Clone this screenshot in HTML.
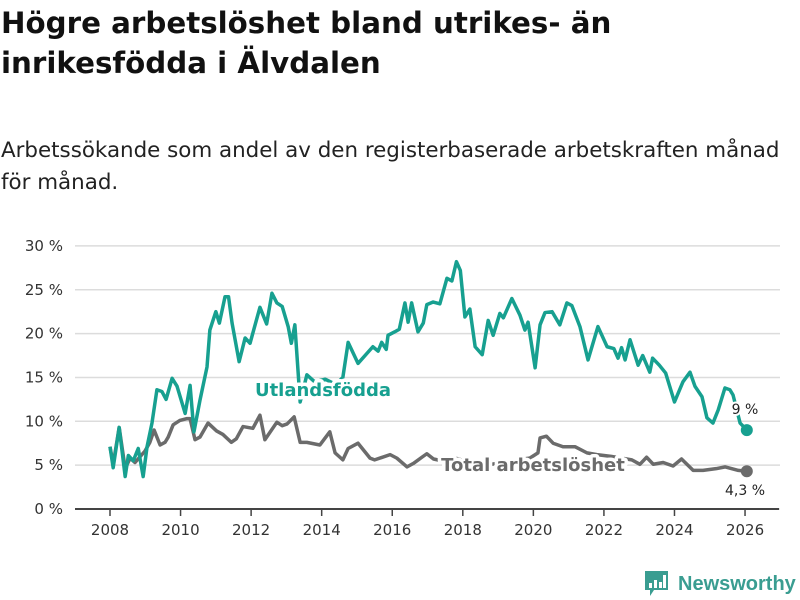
<!DOCTYPE html>
<html><head><meta charset="utf-8">
<style>
body{margin:0;width:800px;height:600px;background:#fff;font-family:"Liberation Sans",sans-serif;overflow:hidden}
#title{position:absolute;left:1px;top:3px;font-family:"DejaVu Sans",sans-serif;font-size:29.3px;font-weight:bold;line-height:40px;color:#111;margin:0;white-space:nowrap}
#sub{position:absolute;left:1px;top:135px;font-family:"DejaVu Sans",sans-serif;font-size:21.4px;line-height:32px;color:#222;margin:0;white-space:nowrap}
svg{position:absolute;left:0;top:0}
</style></head><body>
<h1 id="title">Högre arbetslöshet bland utrikes- än<br>inrikesfödda i Älvdalen</h1>
<p id="sub">Arbetssökande som andel av den registerbaserade arbetskraften månad<br>för månad.</p>
<svg id="chart" width="800" height="600"></svg>
<script>
const utlDates=[2008.0,2008.09,2008.26,2008.43,2008.52,2008.66,2008.8,2008.94,2009.05,2009.19,2009.33,2009.47,2009.59,2009.76,2009.9,2010.13,2010.27,2010.38,2010.55,2010.75,2010.83,2011.0,2011.1,2011.26,2011.36,2011.46,2011.66,2011.83,2011.97,2012.25,2012.44,2012.59,2012.73,2012.88,2013.05,2013.14,2013.24,2013.39,2013.58,2013.8,2014.1,2014.4,2014.6,2014.75,2015.03,2015.45,2015.6,2015.7,2015.83,2015.88,2016.07,2016.2,2016.36,2016.45,2016.55,2016.73,2016.88,2016.98,2017.16,2017.35,2017.55,2017.69,2017.82,2017.93,2018.06,2018.2,2018.35,2018.55,2018.72,2018.86,2019.05,2019.15,2019.39,2019.62,2019.76,2019.85,2020.05,2020.19,2020.33,2020.53,2020.75,2020.95,2021.09,2021.32,2021.55,2021.83,2022.09,2022.28,2022.4,2022.5,2022.6,2022.74,2022.97,2023.1,2023.3,2023.38,2023.57,2023.75,2024.0,2024.24,2024.44,2024.58,2024.78,2024.92,2025.09,2025.24,2025.43,2025.57,2025.66,2025.86,2026.05];
const utlValues=[7.1,4.7,9.3,3.7,6.1,5.5,6.9,3.7,7.1,9.8,13.6,13.4,12.5,14.9,14,10.9,14.1,8.8,12.4,16.2,20.4,22.5,21.2,24.2,24.2,21.2,16.8,19.5,18.9,23,21.1,24.6,23.5,23.1,20.8,18.9,21,12.2,15.3,14.5,14.8,14.2,15,19,16.6,18.5,18,19,18.2,19.8,20.2,20.5,23.5,21.3,23.5,20.2,21.2,23.3,23.6,23.4,26.3,26,28.2,27.2,21.9,22.8,18.5,17.6,21.5,19.8,22.3,21.8,24,22.1,20.4,21.3,16.1,21,22.4,22.5,21,23.5,23.2,20.8,17,20.8,18.5,18.3,17.2,18.4,17,19.3,16.4,17.5,15.6,17.2,16.4,15.5,12.2,14.5,15.6,14,12.8,10.4,9.8,11.3,13.8,13.6,13,9.8,9.0];
const totDates=[2008.0,2008.09,2008.26,2008.43,2008.57,2008.71,2008.99,2009.13,2009.25,2009.42,2009.56,2009.65,2009.79,2009.98,2010.17,2010.27,2010.41,2010.55,2010.78,2011.02,2011.2,2011.44,2011.58,2011.77,2012.05,2012.25,2012.39,2012.73,2012.88,2013.02,2013.22,2013.39,2013.58,2013.95,2014.23,2014.38,2014.6,2014.75,2015.03,2015.17,2015.37,2015.5,2015.94,2016.13,2016.42,2016.6,2016.84,2016.98,2017.17,2017.4,2017.8,2018.2,2018.6,2019.0,2019.5,2019.9,2020.13,2020.19,2020.37,2020.56,2020.84,2021.18,2021.52,2021.8,2022.2,2022.5,2022.79,2023.02,2023.21,2023.4,2023.68,2023.96,2024.2,2024.53,2024.81,2025.18,2025.44,2025.81,2026.05];
const totValues=[7.1,5.1,9.3,4.6,5.8,5.3,6.6,7.6,9,7.3,7.6,8.2,9.6,10.1,10.3,10.3,7.9,8.2,9.8,8.9,8.5,7.6,8,9.4,9.2,10.7,7.9,9.9,9.5,9.7,10.5,7.6,7.6,7.3,8.8,6.4,5.6,6.9,7.5,6.8,5.8,5.6,6.2,5.8,4.8,5.2,5.9,6.3,5.7,5.5,5.8,5.3,5.0,5.2,5.6,5.8,6.4,8.1,8.3,7.5,7.1,7.1,6.4,6.2,6.0,5.8,5.6,5.1,5.9,5.1,5.3,4.9,5.7,4.4,4.4,4.6,4.8,4.4,4.3];
const yTicks=[0,5,10,15,20,25,30];
const yTickLabels=["0 %","5 %","10 %","15 %","20 %","25 %","30 %"];
const xTicks=[2008,2010,2012,2014,2016,2018,2020,2022,2024,2026];

const NS="http://www.w3.org/2000/svg";
const svg=document.getElementById('chart');
const X=v=>110+(v-2008)*35.28;
const Y=v=>509-v*8.77;
function el(t,a,p){const e=document.createElementNS(NS,t);for(const k in a)e.setAttribute(k,a[k]);(p||svg).appendChild(e);return e;}
yTicks.forEach((t,i)=>{
  const g=el('line',{x1:75,x2:780,y1:Y(t),y2:Y(t),stroke:'#dcdcdc','stroke-width':1.5});
  
  
  const l=el('text',{x:63,y:Y(t)+5,'text-anchor':'end','font-size':15,fill:'#333','font-family':'DejaVu Sans, sans-serif'});
  l.textContent=yTickLabels[i];
  
  
});
const ax=el('line',{x1:75,x2:779,y1:509,y2:509,stroke:'#444','stroke-width':2});


xTicks.forEach(t=>{
  const tk=el('line',{x1:X(t),x2:X(t),y1:509,y2:516,stroke:'#444','stroke-width':1.5});
  
  
  const l=el('text',{x:X(t),y:535,'text-anchor':'middle','font-size':15,fill:'#333','font-family':'DejaVu Sans, sans-serif'});
  l.textContent=t;
  
  
});
function line(d,v,c,name){
  const p=el('polyline',{points:d.map((x,i)=>X(x)+','+Y(v[i])).join(' '),fill:'none',stroke:c,'stroke-width':3.5,'stroke-linejoin':'round'});
  
  
  const n=d.length-1;
  const c2=el('circle',{cx:X(d[n]),cy:Y(v[n]),r:6,fill:c});
  
  
}
line(totDates,totValues,'#6b6b6b','total-line');
line(utlDates,utlValues,'#17a090','utlandsfodda-line');
function label(x,y,txt,c,fs,bold,anchor,name){
  const t=el('text',{x:x,y:y,'text-anchor':anchor,'font-size':fs,'font-weight':bold?'bold':'normal',fill:c,stroke:'#fff','stroke-width':bold?7:4,'paint-order':'stroke','stroke-linejoin':'round','font-family':'DejaVu Sans, sans-serif'});
  t.textContent=txt;
  
  
}
label(323,396,'Utlandsfödda','#17a090',18,true,'middle','utlandsfodda-label');
label(533,471,'Total arbetslöshet','#6b6b6b',18,true,'middle','total-label');
label(745,414,'9 %','#222',14,false,'middle','utlandsfodda-value');
label(745,495,'4,3 %','#222',14,false,'middle','total-value');
// logo
const lg=el('g',{});


el('path',{d:'M645 571 h23 v19 h-14 l-4 6 v-6 h-5 z',fill:'#3a9d91'},lg);
el('rect',{x:649,y:583,width:3,height:5,fill:'#fff'},lg);
el('rect',{x:654,y:580,width:3,height:8,fill:'#fff'},lg);
el('rect',{x:659,y:582,width:3,height:6,fill:'#fff'},lg);
el('rect',{x:663,y:575,width:3,height:13,fill:'#fff'},lg);
const lt=el('text',{x:678,y:590,'font-size':20,'font-weight':'bold',fill:'#3a9d91'},lg);
lt.textContent='Newsworthy';
</script>
</body></html>
